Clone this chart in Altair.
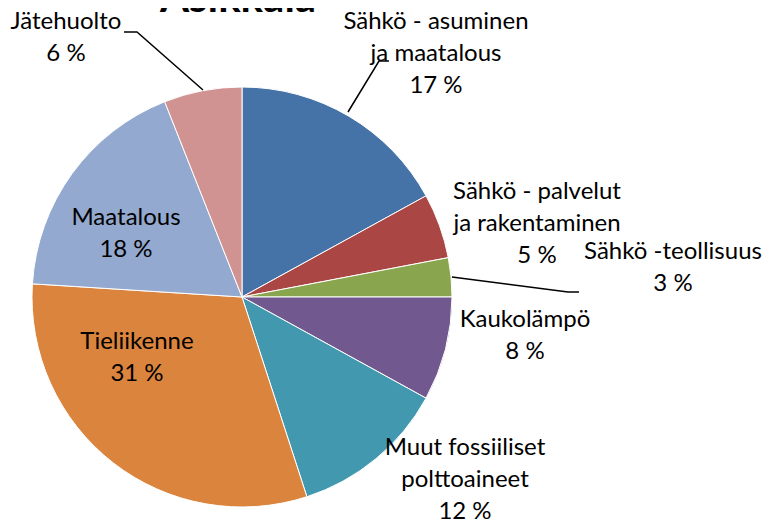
import altair as alt
import pandas as pd

# Slice data (clockwise from 12 o'clock)
categories = ["Sähkö - asuminen ja maatalous", "Sähkö - palvelut ja rakentaminen",
              "Sähkö -teollisuus", "Kaukolämpö", "Muut fossiiliset polttoaineet",
              "Tieliikenne", "Maatalous", "Jätehuolto"]
values = [17, 5, 3, 8, 12, 31, 18, 6]
colors = ["#4572A7", "#AA4643", "#89A54E", "#71588F", "#4198AF", "#DB843D", "#93A9CF", "#D19392"]

# Label texts (as shown in the chart)
label_lines = [
    "Sähkö - asuminen\nja maatalous\n17 %",
    "Sähkö - palvelut\nja rakentaminen\n5 %",
    "Sähkö -teollisuus\n3 %",
    "Kaukolämpö\n8 %",
    "Muut fossiiliset\npolttoaineet\n12 %",
    "Tieliikenne\n31 %",
    "Maatalous\n18 %",
    "Jätehuolto\n6 %",
]
# Label anchor positions (chart pixel units, first line)
label_x = [428, 529, 665, 517, 457, 129, 118, 58]
label_y = [14, 184, 244, 312, 440, 334, 210, 14]

# Leader lines (chart pixel units)
leader_group = ["a", "a", "a", "t", "t", "t", "j", "j", "j"]
leader_x = [340, 371, 381, 444, 560, 571, 116, 129, 195]
leader_y = [104, 53, 53, 269, 284, 284, 24, 24, 82]

title_text = "Asikkala"

W, H = 755, 511
CX, CY, R = 234, 289, 210

pie_df = pd.DataFrame({"cat": categories, "val": values, "ord": list(range(len(values)))})
lab_df = pd.DataFrame({"txt": label_lines, "lx": label_x, "ly": label_y})
lead_df = pd.DataFrame({"g": leader_group, "lx": leader_x, "ly": leader_y,
                        "o": list(range(len(leader_x)))})
title_df = pd.DataFrame({"t": [title_text], "lx": [230], "ly": [4]})

xs = alt.Scale(domain=[0, W])
ys = alt.Scale(domain=[H, 0])

pie = alt.Chart(pie_df).mark_arc(outerRadius=R, stroke="white", strokeWidth=1).encode(
    theta=alt.Theta("val:Q", stack=True),
    color=alt.Color("cat:N", scale=alt.Scale(domain=categories, range=colors), legend=None),
    order=alt.Order("ord:Q"),
    x=alt.value(CX),
    y=alt.value(CY),
)

labels = alt.Chart(lab_df).mark_text(
    font="Lato", fontSize=24, lineBreak="\n", lineHeight=32, align="center",
    baseline="middle", color="black"
).encode(
    x=alt.X("lx:Q", scale=xs, axis=None),
    y=alt.Y("ly:Q", scale=ys, axis=None),
    text="txt:N",
)

leaders = alt.Chart(lead_df).mark_line(color="black", strokeWidth=1.5).encode(
    x=alt.X("lx:Q", scale=xs, axis=None),
    y=alt.Y("ly:Q", scale=ys, axis=None),
    detail="g:N",
    order="o:Q",
)

title = alt.Chart(title_df).mark_text(
    font="Lato", fontSize=42, fontWeight="bold", align="center", baseline="alphabetic", color="black"
).encode(
    x=alt.X("lx:Q", scale=xs, axis=None),
    y=alt.Y("ly:Q", scale=ys, axis=None),
    text="t:N",
)

chart = alt.layer(pie, leaders, labels, title).properties(
    width=W, height=H, autosize=alt.AutoSizeParams(type="none"), padding=0
).configure_view(stroke=None)

chart.save("out.html", embed_options={"renderer": "svg", "actions": False})
